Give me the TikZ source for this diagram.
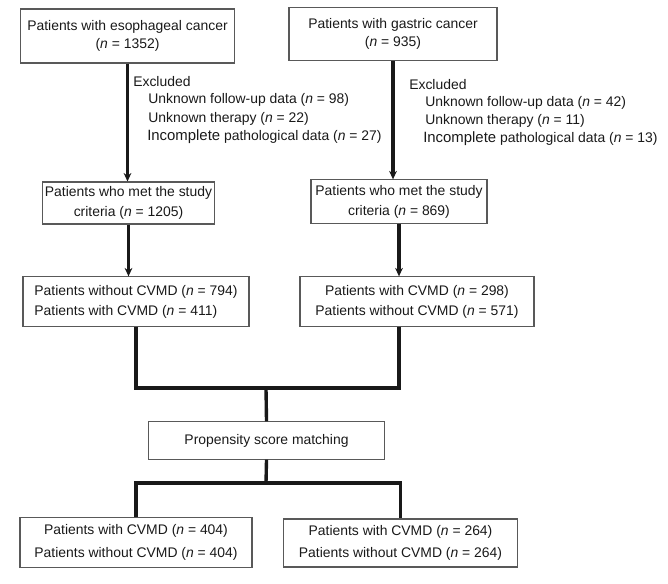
\documentclass[tikz,border=0pt]{standalone}
\usepackage{fontspec}
\setmainfont{Liberation Sans}
\usetikzlibrary{arrows.meta, positioning}
\newcommand{\nval}[1]{(\textit{n} = #1)}
\newcommand{\bigword}[1]{{\fontsize{10.6}{14}\selectfont #1}}

\begin{document}
\begin{tikzpicture}[x=0.025cm, y=-0.025cm,
		every node/.style={font=\fontsize{9.9}{14.2}\selectfont, text=black!90},
		box/.style={draw=black!65, line width=0.8pt, align=center, inner sep=1pt},
		link/.style={line width=2.4pt, black!90},
		arr/.style={link, -{Stealth[length=6pt, width=5.5pt]}},
		excl/.style={anchor=west, inner sep=0pt}]
		\useasboundingbox (0,0) rectangle (668,583);
		% cohorts
		\node[box, font=\fontsize{9.9}{13}\selectfont, minimum width=5.33cm, minimum height=1.35cm] (eso) at (127.5,36) {Patients with esophageal cancer\\\nval{1352}};
		\node[box, font=\fontsize{9.9}{13}\selectfont, minimum width=5.2cm, minimum height=1.33cm] (gas) at (393,34) {Patients with gastric cancer\\\nval{935}};
		% exclusions
		\node[excl] (exl) at (133,82) {Excluded};
		\node[excl] (exl1) at (148,100) {Unknown follow-up data \nval{98}};
		\node[excl] (exl2) at (148,119) {Unknown therapy \nval{22}};
		\node[excl] (exl3) at (147,137) {\bigword{Incomplete} pathological data \nval{27}};
		\node[excl] (exr) at (409,85) {Excluded};
		\node[excl] (exr1) at (425,103) {Unknown follow-up data \nval{42}};
		\node[excl] (exr2) at (425,121) {Unknown therapy \nval{11}};
		\node[excl] (exr3) at (423,139) {\bigword{Incomplete} pathological data \nval{13}};
		% eligible
		\node[box, minimum width=4.28cm, minimum height=1.05cm] (esocrit) at (128.5,203) {Patients who met the study\\criteria \nval{1205}};
		\node[box, minimum width=4.4cm, minimum height=1.08cm] (gascrit) at (399,201.5) {Patients who met the study\\criteria \nval{869}};
		\node[box, align=left, minimum width=5.65cm, minimum height=1.23cm] (esogrp) at (136,301.5) {Patients without CVMD \nval{794}\\Patients with CVMD \nval{411}};
		\node[box, minimum width=5.85cm, minimum height=1.23cm] (gasgrp) at (417,301.5) {Patients with CVMD \nval{298}\\Patients without CVMD \nval{571}};
		% matching
		\node[box, minimum width=5.88cm, minimum height=0.93cm] (psm) at (266.5,440.5) {Propensity score matching};
		\node[box, font=\fontsize{9.9}{16.4}\selectfont, minimum width=5.8cm, minimum height=1.23cm] (matl) at (136,542.5) {Patients with CVMD \nval{404}\\Patients without CVMD \nval{404}};
		\node[box, font=\fontsize{9.9}{15.5}\selectfont, minimum width=5.83cm, minimum height=1.2cm] (matr) at (400.5,543) {Patients with CVMD \nval{264}\\Patients without CVMD \nval{264}};
		\coordinate (join) at (266,388);
		\coordinate (split) at (266,483);
		\draw[arr] (eso.south) -- (eso.south |- esocrit.north);
		\draw[arr] (gas.south) -- (gas.south |- gascrit.north);
		\draw[arr] (esocrit.south) -- (esocrit.south |- esogrp.north);
		\draw[arr] (gascrit.south) -- (gascrit.south |- gasgrp.north);
		\draw[link] (esogrp.south) |- (join) -| (gascrit |- gasgrp.south);
		\draw[link] (join) -- (psm.north);
		\draw[link] (psm.south) -- (split);
		\draw[link] (matl.north) |- (split) -| (matr.north);
	\end{tikzpicture}
\end{document}
